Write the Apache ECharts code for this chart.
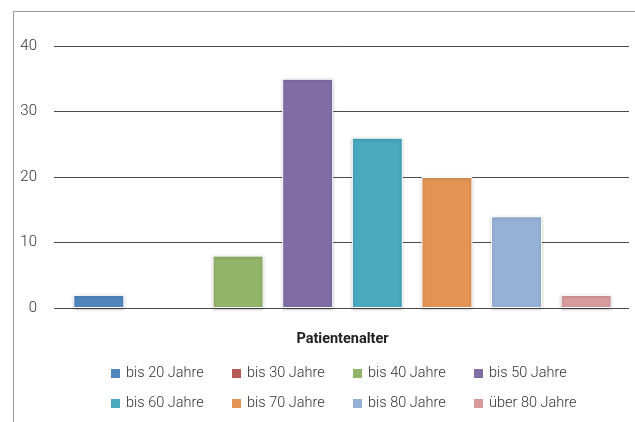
<!DOCTYPE html>
<html><head><meta charset="utf-8">
<script src="https://cdn.jsdelivr.net/npm/echarts@6/dist/echarts.min.js"></script>
<style>html,body{margin:0;padding:0;background:#fff}#c{width:635px;height:422px}</style>
</head><body><div id="c"></div>
<script>
const categories = ['bis 20 Jahre','bis 30 Jahre','bis 40 Jahre','bis 50 Jahre','bis 60 Jahre','bis 70 Jahre','bis 80 Jahre','über 80 Jahre'];
const values = [2, 0, 8, 35, 26, 20, 14, 2];
const colors = ['#5186BC','#B85C58','#93B46B','#816DA6','#4AA8BF','#E39455','#96B1D6','#D79A9D'];
const yTicks = [0, 10, 20, 30, 40];

const FONT = "Roboto, 'Liberation Sans', Arial, sans-serif";
const chart = echarts.init(document.getElementById('c'), null, {renderer:'canvas'});

const series = categories.map((name, i) => ({
  name: name,
  type: 'bar',
  stack: 'all',
  xAxisIndex: 1, yAxisIndex: 1,
  barWidth: 51,
  data: categories.map((_, j) => (j === i && values[i] !== 0) ? values[i] : '-'),
  itemStyle: {color: colors[i], borderColor: '#fff', borderWidth: 1,
    shadowBlur: 3, shadowColor: 'rgba(0,0,0,0.25)', shadowOffsetX: 0, shadowOffsetY: 1}
}));

const legends = categories.map((name, i) => ({
  data: [name],
  itemWidth: 11, itemHeight: 11, icon: 'rect',
  left: 104 + 121 * (i % 4),
  top: i < 4 ? 361 : 391,
  textStyle: {fontFamily: FONT, fontSize: 14.5, fontWeight: 300, color: '#333'}
}));

chart.setOption({
  animation: false,
  graphic: [
    {type:'line', shape:{x1:13, y1:11.5, x2:635, y2:11.5}, style:{stroke:'#9a9a9a', lineWidth:1}},
    {type:'line', shape:{x1:13.5, y1:11, x2:13.5, y2:422}, style:{stroke:'#9a9a9a', lineWidth:1}}
  ],
  grid: [
    {left: 54, right: 6, top: 46, bottom: 114},
    {left: 64, right: 14, top: 46, bottom: 114}
  ],
  xAxis: [
    {type:'value', gridIndex:0, show:false},
    {type:'category', gridIndex:1, data: categories,
      axisLine:{show:false}, axisTick:{show:false}, axisLabel:{show:false},
      name:'Patientenalter', nameLocation:'middle', nameGap: 24,
      nameTextStyle:{fontFamily: FONT, fontSize: 14.5, fontWeight:'bold', color:'#222'}}
  ],
  yAxis: [
    {type:'value', gridIndex:0, min: yTicks[0], max: yTicks[yTicks.length-1], interval: 10,
      axisLine:{show:false}, axisTick:{show:false},
      axisLabel:{margin: 17, fontFamily: FONT, fontSize: 15, fontWeight: 300, color:'#333'},
      splitLine:{lineStyle:{color:'#4a4a4a', width:1}}},
    {type:'value', gridIndex:1, min: yTicks[0], max: yTicks[yTicks.length-1], interval: 10, show:false,
      splitLine:{show:false}}
  ],
  legend: legends,
  series: series
});
</script></body></html>
